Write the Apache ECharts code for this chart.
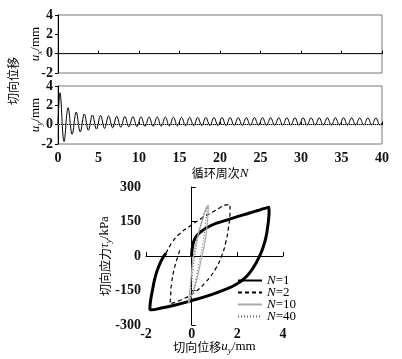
<!DOCTYPE html>
<html><head><meta charset="utf-8">
<script src="https://cdn.jsdelivr.net/npm/echarts/dist/echarts.min.js"></script>
<style>html,body{margin:0;padding:0;background:#fff}#c{width:402px;height:359px}</style>
</head><body><div id="c"></div>
<script>
// ---- data ----
const cycleTicks = [0, 5, 10, 15, 20, 25, 30, 35, 40];
const uxVal = [0,0,0,0,0,0,0,0,0,0,0,0,0,0,0,0,0,0,0,0,0,0,0,0,0,0,0,0,0,0,0,0,0,0,0,0,0,0,0,0,0];
// u_y peak (at cycle k+0.25) and trough (at cycle k+0.75) values, mm
const uyPeaks = [3.3,1.75,1.3,1.1,1.0,0.95,0.9,0.87,0.85,0.83,0.81,0.8,0.79,0.78,0.77,0.76,0.76,0.75,0.75,0.74,
                 0.74,0.74,0.73,0.73,0.73,0.73,0.72,0.72,0.72,0.72,0.72,0.71,0.71,0.71,0.71,0.71,0.7,0.7,0.7,0.7];
const uyTroughs = [-1.75,-1.0,-0.75,-0.58,-0.46,-0.38,-0.32,-0.27,-0.23,-0.2,-0.18,-0.16,-0.15,-0.14,-0.13,-0.12,-0.11,-0.1,-0.1,-0.09,
                   -0.09,-0.08,-0.08,-0.08,-0.07,-0.07,-0.07,-0.06,-0.06,-0.06,-0.06,-0.05,-0.05,-0.05,-0.05,-0.05,-0.05,-0.04,-0.04,-0.04];
const uyStart = 0, uyEnd = 0.15;

const loopN1 = [[0,0],[0.02,30],[0.08,60],[0.2,85],[0.4,105],[0.7,125],[1.1,143],[1.6,158],[2.0,171],[2.5,186],[2.9,198],[3.2,207],[3.38,212],
  [3.39,195],[3.37,160],[3.32,120],[3.25,80],[3.14,41],[3.0,5],[2.82,-30],[2.6,-65],[2.3,-98],[1.9,-126],[1.4,-148],[0.8,-170],[0,-194],[-0.8,-215],[-1.4,-228],[-1.75,-234],[-1.83,-230],
  [-1.8,-195],[-1.7,-140],[-1.58,-85],[-1.42,-40],[-1.25,-5],[-1.12,12]];
const loopN2 = [[-1.12,12],[-0.85,60],[-0.5,99],[0.0,135],[0.5,168],[0.9,190],[1.24,210],[1.5,222],[1.68,224],
  [1.68,195],[1.66,160],[1.6,113],[1.5,62],[1.33,5],[1.05,-55],[0.6,-115],[0.1,-160],[-0.45,-190],[-0.95,-208],
  [-0.92,-170],[-0.88,-119],[-0.75,-50],[-0.6,0],[-0.5,30]];
const loopN10 = [[-0.15,-206],[-0.08,-150],[-0.02,-90],[0.05,-20],[0.15,40],[0.3,100],[0.48,160],[0.62,200],[0.73,222],
  [0.72,190],[0.67,130],[0.58,60],[0.45,0],[0.3,-70],[0.12,-140],[-0.15,-206]];
const loopN40 = [[-0.07,-191],[0.0,-130],[0.06,-60],[0.14,0],[0.28,80],[0.45,155],[0.6,205],[0.68,220],
  [0.64,170],[0.57,110],[0.48,50],[0.36,-10],[0.22,-80],[0.07,-150],[-0.07,-191]];
const legendNames = ['N=1','N=2','N=10','N=40'];

// ---- build ----
const uyData = [[0, uyStart]];
for (let k = 0; k < uyPeaks.length; k++) {
  uyData.push([k + 0.25, uyPeaks[k]]);
  uyData.push([k + 0.75, uyTroughs[k]]);
}
uyData.push([40, uyEnd]);
const uxData = uxVal.map((v, i) => [i, v]);

const SERIF = 'Liberation Serif';
const CJK = 'Noto Sans CJK SC';
const rich = {
  c: {fontFamily: CJK, fontSize: 12, color: '#000'},
  i: {fontFamily: SERIF, fontStyle: 'italic', fontSize: 13, color: '#000'},
  s: {fontFamily: SERIF, fontStyle: 'italic', fontSize: 9, color: '#000', padding: [7, 0, 0, 0]},
  t: {fontFamily: SERIF, fontSize: 13, color: '#000'}
};
const lbl = m => ({fontFamily: SERIF, fontSize: 14, fontWeight: 'bold', color: '#111', margin: m});
const axLine = {show: true, lineStyle: {color: '#000', width: 1}};

const chart = echarts.init(document.getElementById('c'), null, {renderer: 'canvas'});
chart.setOption({
  animation: false,
  backgroundColor: '#fff',
  grid: [
    {left: 58, top: 15, width: 324, height: 58, show: true, borderColor: '#777', borderWidth: 1},
    {left: 58, top: 86, width: 324, height: 58, show: true, borderColor: '#777', borderWidth: 1},
    {left: 146, top: 187, width: 137, height: 138}
  ],
  xAxis: [
    {gridIndex: 0, type: 'value', min: 0, max: 40, interval: 5, axisLine: axLine,
     axisTick: {inside: true, length: 3, lineStyle: {color: '#000'}}, axisLabel: {show: false}, splitLine: {show: false}},
    {gridIndex: 1, type: 'value', min: 0, max: 40, interval: 5, axisLine: axLine,
     axisTick: {inside: true, length: 3, lineStyle: {color: '#000'}}, axisLabel: lbl(7), splitLine: {show: false},
     name: '{c|循环周次}{i|N}', nameLocation: 'middle', nameGap: 23, nameMoveOverlap: false, nameTextStyle: {rich: rich}},
    {gridIndex: 2, type: 'value', min: -2, max: 4, interval: 2, axisLine: axLine,
     axisTick: {inside: true, length: 4, lineStyle: {color: '#000'}}, axisLabel: lbl(2), splitLine: {show: false},
     name: '{c|切向位移}{i|u}{s|y}{t|/mm}', nameLocation: 'middle', nameGap: 14, nameMoveOverlap: false, nameTextStyle: {rich: rich}}
  ],
  yAxis: [
    {gridIndex: 0, type: 'value', min: -2, max: 4, interval: 2, axisLine: axLine,
     axisTick: {inside: false, length: 3, lineStyle: {color: '#000'}}, axisLabel: lbl(5), splitLine: {show: false},
     name: '{i|u}{s|x}{t|/mm}', nameLocation: 'middle', nameGap: 14, nameRotate: 90, nameMoveOverlap: false, nameTextStyle: {rich: rich}},
    {gridIndex: 1, type: 'value', min: -2, max: 4, interval: 2, axisLine: axLine,
     axisTick: {inside: false, length: 3, lineStyle: {color: '#000'}}, axisLabel: lbl(5), splitLine: {show: false},
     name: '{i|u}{s|y}{t|/mm}', nameLocation: 'middle', nameGap: 14, nameRotate: 90, nameMoveOverlap: false, nameTextStyle: {rich: rich}},
    {gridIndex: 2, type: 'value', min: -300, max: 300, interval: 150, axisLine: axLine,
     axisTick: {inside: true, length: 4, lineStyle: {color: '#000'}}, axisLabel: lbl(5), splitLine: {show: false},
     name: '{c|切向应力}{i|τ}{s|y}{t|/kPa}', nameLocation: 'middle', nameGap: 33, nameRotate: 90, nameMoveOverlap: false, nameTextStyle: {rich: rich}}
  ],
  legend: {
    data: legendNames, orient: 'vertical', left: 237, top: 274, itemWidth: 24, itemHeight: 8, itemGap: -1,
    padding: 0, selectedMode: false, itemStyle: {opacity: 0},
    formatter: n => '{i|N}' + n.slice(1),
    textStyle: {fontFamily: SERIF, fontSize: 13, lineHeight: 10, color: '#000',
      rich: {i: {fontFamily: SERIF, fontStyle: 'italic', fontSize: 13, lineHeight: 10, color: '#000'}}}
  },
  graphic: [
    {type: 'text', x: 13, y: 81, rotation: Math.PI / 2,
     style: {text: '切向位移', font: '12px "Noto Sans CJK SC"', fill: '#000', align: 'center', verticalAlign: 'middle'}}
  ],
  series: [
    {type: 'line', xAxisIndex: 0, yAxisIndex: 0, data: uxData, symbol: 'none', lineStyle: {color: '#222', width: 1}},
    {type: 'line', xAxisIndex: 1, yAxisIndex: 1, data: uyData, symbol: 'none', smooth: 0.4,
     lineStyle: {color: '#000', width: 1},
     markLine: {silent: true, symbol: 'none', label: {show: false}, lineStyle: {color: '#999', type: 'dotted', width: 1}, data: [{yAxis: 0}]}},
    {name: 'N=1', type: 'line', xAxisIndex: 2, yAxisIndex: 2, data: loopN1, symbol: 'none', smooth: 0.5,
     lineStyle: {color: '#000', width: 3}, itemStyle: {color: '#000'}},
    {name: 'N=2', type: 'line', xAxisIndex: 2, yAxisIndex: 2, data: loopN2, symbol: 'none', smooth: 0.5,
     lineStyle: {color: '#000', width: 1.2, type: [4, 3]}, itemStyle: {color: '#000'}},
    {name: 'N=10', type: 'line', xAxisIndex: 2, yAxisIndex: 2, data: loopN10, symbol: 'none', smooth: 0.5,
     lineStyle: {color: '#aaa', width: 1.2}, itemStyle: {color: '#aaa'}},
    {name: 'N=40', type: 'line', xAxisIndex: 2, yAxisIndex: 2, data: loopN40, symbol: 'none', smooth: 0.5,
     lineStyle: {color: '#666', width: 1, type: [1, 2]}, itemStyle: {color: '#666'}}
  ]
});
</script></body></html>
